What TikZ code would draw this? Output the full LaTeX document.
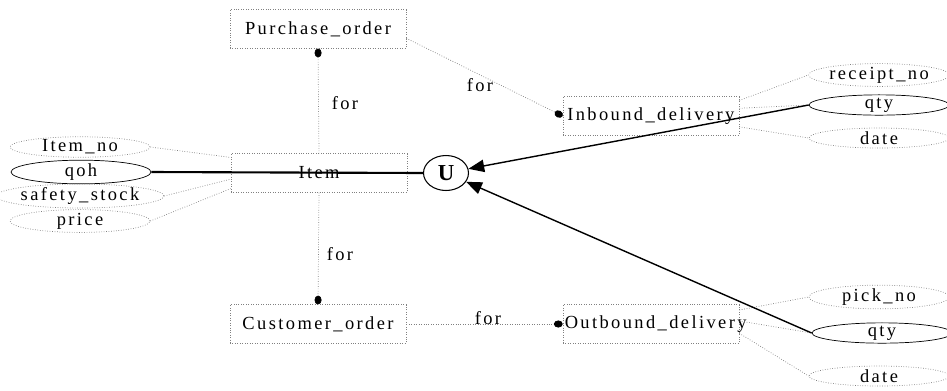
\documentclass[tikz,border=0pt]{standalone}
\usepackage{fontspec}
\setmainfont{Liberation Serif}[LetterSpace=13]
\usetikzlibrary{shapes.geometric,arrows.meta}

\begin{document}
\begin{tikzpicture}[x=0.02cm,y=-0.02cm,inner sep=0pt,font=\fontsize{10.5}{11}\selectfont,
  entity/.style={draw=gray,densely dotted,minimum width=3.52cm,minimum height=0.77cm},
  attr/.style={ellipse,draw=gray,densely dotted,minimum width=2.8cm,minimum height=0.4cm},
  keyattr/.style={ellipse,draw,thin,minimum width=2.8cm,minimum height=0.4cm},
  rel/.style={draw=gray,densely dotted,thin},
  dot/.tip={Circle[length=5pt,width=4pt,black]},
  flow/.style={thick,-{Triangle[length=9pt,width=7pt]}}]
\useasboundingbox (0,0) rectangle (947,390);

% entities
\node[entity] (po)  at (318,29)  {Purchase\_order};
\node[entity] (item) at (319,173) {Item};
\node[entity] (co)  at (318,324) {Customer\_order};
\node[entity,text width=3.35cm] (ib) at (651,116) {Inbound\_delivery};
\node[entity,text width=3.45cm] (ob) at (651,324) {Outbound\_delivery};
\node[ellipse,draw,semithick,minimum width=0.9cm,minimum height=0.7cm,
  font=\fontsize{13}{14}\selectfont\bfseries] (u) at (446,173) {U};

% attributes of Item
\node[attr]    (itemno) at (80,147) {Item\_no};
\node[keyattr] (qoh)    at (81,172) {qoh};
\node[attr]    (safety) at (80,196) {safety\_stock};
\node[attr]    (price)  at (80,221) {price};

% attributes of the deliveries
\node[attr]    (rcpt)   at (879,75)  {receipt\_no};
\node[keyattr] (qtyin)  at (879,105) {qty};
\node[attr]    (datein) at (879,138) {date};
\node[attr]    (pick)   at (879,297) {pick\_no};
\node[keyattr] (qtyout) at (882,333) {qty};
\node[attr]    (dateout) at (879,376) {date};

\draw[rel] (itemno.east) -- (item.170);
\draw[rel] (safety.east) -- (item.184);
\draw[rel] (price.east) -- (item.190);
\draw[rel] (ib.10) -- (rcpt.west);
\draw[rel] (ib.5) -- (qtyin.west);
\draw[rel] (ib.353) -- (datein.west);
\draw[rel] (ob.9) -- (pick.west);
\draw[rel] (ob.2) -- (qtyout.west);
\draw[rel] (ob.354) -- (dateout.west);

% relationships
\draw[rel,{dot}-] (po.south) -- (item.north);
\draw[rel,-{dot}] (item.south) -- (co.north);
\draw[rel,-{dot}] (po.354) -- (ib.west);
\draw[rel,-{dot}] (co.east) -- (ob.west);
\node (for1) at (345,103) {for};
\node (for2) at (480,85)  {for};
\node (for3) at (340,254) {for};
\node (for4) at (488,318) {for};

% stock update
\draw[very thick] (qoh.east) -- (u.west);
\draw[flow] (qtyin.west) -- (u);
\draw[flow] (qtyout.west) -- (u);
\end{tikzpicture}
\end{document}
